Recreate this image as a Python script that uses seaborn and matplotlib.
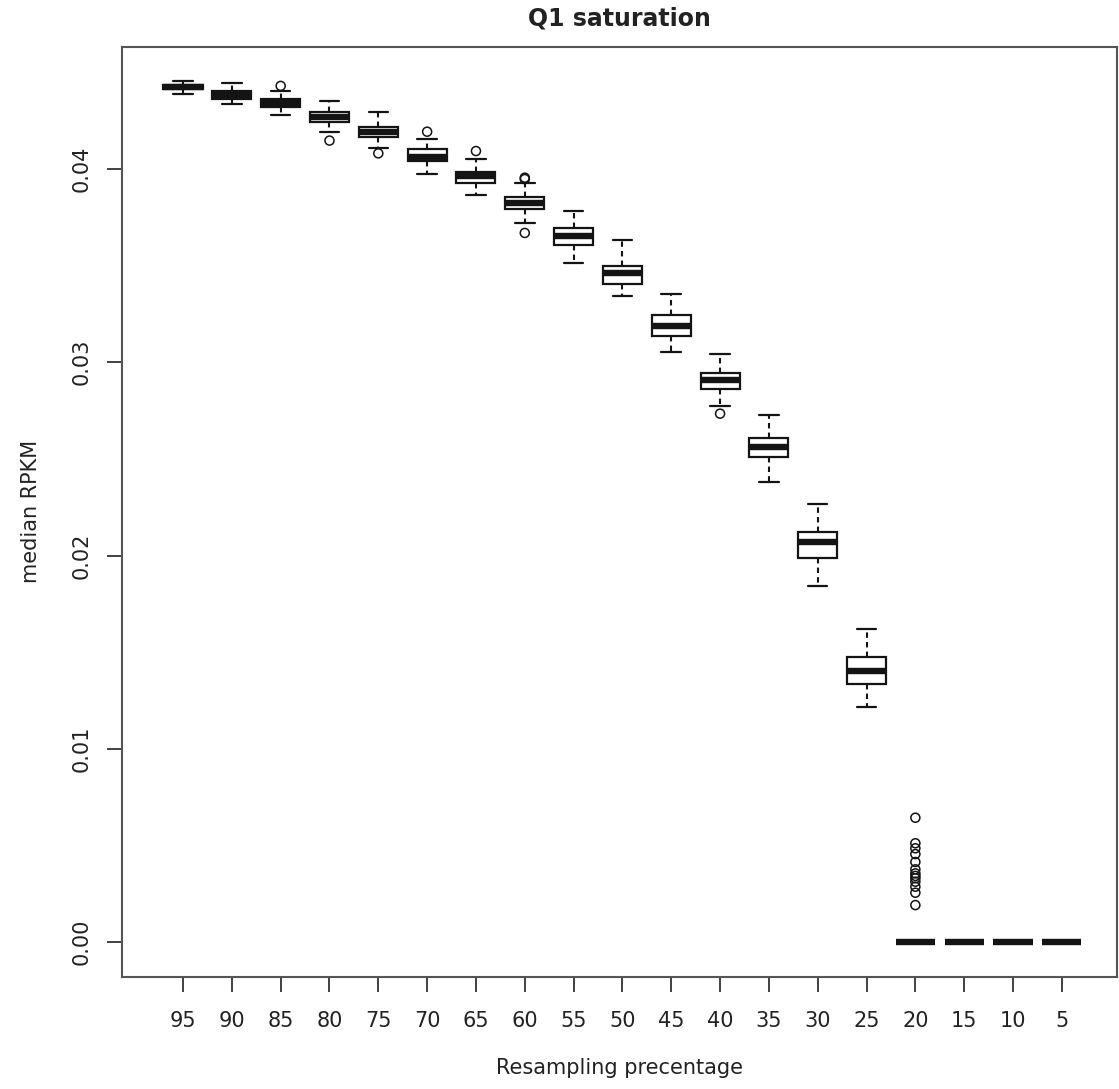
import numpy as np
import pandas as pd
import matplotlib
matplotlib.use("Agg")
import matplotlib.pyplot as plt
import seaborn as sns

# ---- data ----
percentages = ["95", "90", "85", "80", "75", "70", "65", "60", "55", "50",
               "45", "40", "35", "30", "25", "20", "15", "10", "5"]

whisker_low = [0.04388, 0.04336, 0.04278, 0.04191, 0.04109, 0.03974, 0.03865,
               0.03723, 0.03515, 0.03343, 0.03055, 0.02776, 0.02382, 0.01844,
               0.01218, 0.0, 0.0, 0.0, 0.0]
q1 = [0.04412, 0.04361, 0.04322, 0.04245, 0.04167, 0.04043, 0.03928,
      0.03791, 0.03607, 0.03405, 0.03136, 0.02862, 0.02510, 0.01989,
      0.01335, 0.0, 0.0, 0.0, 0.0]
median = [0.04426, 0.04383, 0.04340, 0.04271, 0.04191, 0.04064, 0.03964,
          0.03824, 0.03653, 0.03463, 0.03190, 0.02908, 0.02563, 0.02071,
          0.01404, 0.0, 0.0, 0.0, 0.0]
q3 = [0.04436, 0.04402, 0.04361, 0.04295, 0.04216, 0.04102, 0.03987,
      0.03855, 0.03695, 0.03498, 0.03247, 0.02946, 0.02608, 0.02123,
      0.01476, 0.0, 0.0, 0.0, 0.0]
whisker_high = [0.04457, 0.04443, 0.04405, 0.04353, 0.04295, 0.04157, 0.04054,
                0.03928, 0.03783, 0.03635, 0.03353, 0.03043, 0.02729, 0.02266,
                0.01618, 0.0, 0.0, 0.0, 0.0]

outlier_pct = ["85", "80", "75", "70", "65", "60", "60", "60", "40",
               "20", "20", "20", "20", "20", "20", "20", "20", "20", "20",
               "20", "20", "20"]
outlier_val = [0.04430, 0.04147, 0.04081, 0.04193, 0.04093, 0.03955, 0.03948,
               0.03669, 0.02734,
               0.00643, 0.00511, 0.00485, 0.00455, 0.00414, 0.00376, 0.00355,
               0.00342, 0.00330, 0.00312, 0.00286, 0.00255, 0.00191]

y_ticks = [0.00, 0.01, 0.02, 0.03, 0.04]
y_tick_labels = ["0.00", "0.01", "0.02", "0.03", "0.04"]

# ---- long table of the five-number summaries ----
rows = []
for p, a, b, c, d, e in zip(percentages, whisker_low, q1, median, q3, whisker_high):
    for v in (a, b, c, d, e):
        rows.append((p, v))
df = pd.DataFrame(rows, columns=["pct", "value"])
out_df = pd.DataFrame({"pct": outlier_pct, "value": outlier_val})

sns.set_style("ticks")
plt.rcParams["font.family"] = ["DejaVu Sans"]

W, H = 1119, 1089
fig = plt.figure(figsize=(W / 100, H / 100), dpi=100)
left, right, top, bottom = 122, 1117, 46.7, 976.7
ax = fig.add_axes([left / W, (H - bottom) / H, (right - left) / W, (bottom - top) / H])

ink = "#141414"
sns.boxplot(data=df, x="pct", y="value", order=percentages, whis=(0, 100),
            width=0.8, color="white", linecolor=ink, linewidth=1.6,
            showfliers=False, saturation=1,
            medianprops=dict(linewidth=4.6, color=ink, solid_capstyle="butt"),
            whiskerprops=dict(linestyle=(0, (2.6, 2.0)), linewidth=1.5),
            capprops=dict(linewidth=1.6),
            ax=ax)

sns.stripplot(data=out_df, x="pct", y="value", order=percentages, jitter=False,
              size=6.5, color=ink, linewidth=1.1, edgecolor=ink, ax=ax)
for coll in ax.collections:
    coll.set_facecolor("none")
    coll.set_edgecolor(ink)

ax.set_xlim(-1.25, 19.13)
ax.set_ylim((942 - bottom) / 19325, (942 - top) / 19325)

ax.set_yticks(y_ticks)
ax.set_yticklabels(y_tick_labels)
ax.tick_params(axis="both", direction="out", length=11, width=1.3, color="#333333",
               labelsize=15, labelcolor="#222222", bottom=True, left=True)
ax.tick_params(axis="y", pad=11, labelrotation=90)
ax.tick_params(axis="x", pad=14)
for lbl in ax.get_yticklabels():
    lbl.set_va("center")

for s in ax.spines.values():
    s.set_visible(True)
    s.set_color("#555555")
    s.set_linewidth(1.5)

ax.set_xlabel("Resampling precentage", fontsize=15, labelpad=19, color="#222222")
ax.set_ylabel("median RPKM", fontsize=15, labelpad=22, color="#222222")
ax.set_title("Q1 saturation", fontsize=17, fontweight="bold", pad=15, color="#222222")

fig.savefig("out.png", dpi=100)
